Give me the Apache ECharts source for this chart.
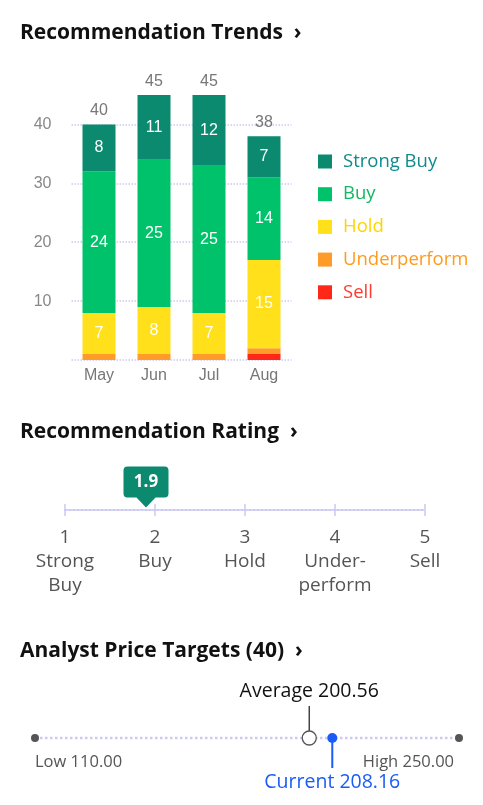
<!DOCTYPE html>
<html><head><meta charset="utf-8">
<script src="https://cdn.jsdelivr.net/npm/echarts@6/dist/echarts.min.js"></script>
<style>html,body{margin:0;padding:0;background:#fff}#c{width:483px;height:805px}</style>
</head><body><div id="c"></div>
<script>
// ---- data ----
const months = ['May', 'Jun', 'Jul', 'Aug'];
const strongBuy = [8, 11, 12, 7];
const buy = [24, 25, 25, 14];
const hold = [7, 8, 7, 15];
const underperform = [1, 1, 1, 1];
const sell = [0, 0, 0, 1];
const yTicks = [10, 20, 30, 40];

const ratingValue = 1.9;
const ratingNumbers = [1, 2, 3, 4, 5];
const ratingNames = ['Strong\nBuy', 'Buy', 'Hold', 'Under-\nperform', 'Sell'];

const analystCount = 40;
const priceLow = 110.00;
const priceHigh = 250.00;
const priceAverage = 200.56;
const priceCurrent = 208.16;

// ---- styling ----
const colors = {
  'Strong Buy': '#0b8a6f',
  'Buy': '#00c26a',
  'Hold': '#ffe01a',
  'Underperform': '#ff9b28',
  'Sell': '#ff2818'
};
const legendText = {
  'Strong Buy': '#0e8c8c',
  'Buy': '#12b863',
  'Hold': '#ffd400',
  'Underperform': '#ff9b1c',
  'Sell': '#ff3a2f'
};
const lav = '#cacaf2';
const clear = 'rgba(0,0,0,0)';
const totals = months.map((m, i) => strongBuy[i] + buy[i] + hold[i] + underperform[i] + sell[i]);
const seriesDefs = [
  ['Sell', sell], ['Underperform', underperform], ['Hold', hold], ['Buy', buy], ['Strong Buy', strongBuy]
];
const numFont = 'Liberation Sans, Arial, sans-serif';
const txtFont = 'Open Sans, Noto Sans, sans-serif';

const barSeries = seriesDefs.map(([name, arr]) => ({
  name, type: 'bar', stack: 'rec', xAxisIndex: 0, yAxisIndex: 0,
  barWidth: 33, data: arr,
  itemStyle: { color: colors[name] },
  label: {
    show: true, position: 'inside', color: '#fff', fontSize: 16, fontFamily: numFont,
    formatter: p => (p.value >= 3 ? String(p.value) : '')
  }
}));

const titleStyle = { fontFamily: txtFont, fontWeight: 'bold', fontSize: 21, color: '#111' };

const option = {
  animation: false,
  title: [
    { text: 'Recommendation Trends  \u203A', left: 20, top: 23, padding: 0, textStyle: titleStyle },
    { text: 'Recommendation Rating  \u203A', left: 20, top: 422, padding: 0, textStyle: titleStyle },
    { text: 'Analyst Price Targets (' + analystCount + ')  \u203A', left: 20, top: 641, padding: 0, textStyle: titleStyle }
  ],
  legend: {
    orient: 'vertical', left: 318, top: 152, itemWidth: 14, itemHeight: 14, itemGap: 13.7,
    icon: 'rect', padding: 0,
    textStyle: { fontFamily: txtFont, fontSize: 18.5, padding: [0, 0, 0, 6] },
    data: ['Strong Buy', 'Buy', 'Hold', 'Underperform', 'Sell'].map(n => ({ name: n, textStyle: { color: legendText[n] } }))
  },
  grid: [
    { left: 71.5, width: 220, top: 95, height: 265 },
    { left: 65, width: 360, top: 504, height: 12 },
    { left: 35, width: 424, top: 698, height: 80 }
  ],
  xAxis: [
    {
      gridIndex: 0, type: 'category', data: months,
      axisLine: { show: false }, axisTick: { show: false },
      axisLabel: { color: '#777', fontSize: 16, fontFamily: numFont, margin: 8 }
    },
    {
      gridIndex: 1, type: 'value', min: 1, max: 5, interval: 1,
      axisLine: { show: true, onZero: true, lineStyle: { color: lav, type: 'dotted', width: 2 } },
      axisTick: { show: false },
      splitLine: { show: true, lineStyle: { color: lav, width: 1.5 } },
      axisLabel: {
        margin: 10, color: '#555', fontSize: 19, fontFamily: txtFont, lineHeight: 24, align: 'center',
        showMinLabel: true, showMaxLabel: true,
        formatter: v => ratingNumbers.includes(v) ? v + '\n' + ratingNames[v - 1] : ''
      }
    },
    { gridIndex: 2, type: 'value', min: priceLow, max: priceHigh, show: false }
  ],
  yAxis: [
    {
      gridIndex: 0, type: 'value', min: 0, max: 45, interval: 10,
      axisLine: { show: false }, axisTick: { show: false },
      axisLabel: {
        color: '#888', fontSize: 16, fontFamily: numFont, margin: 20,
        formatter: v => yTicks.includes(v) ? String(v) : ''
      },
      splitLine: { show: true, lineStyle: { color: [lav, lav, lav, lav, lav, clear], type: 'dotted', width: 1.5 } }
    },
    { gridIndex: 1, type: 'value', min: -1, max: 1, show: false },
    { gridIndex: 2, type: 'value', min: -1, max: 1, show: false }
  ],
  series: [
    ...barSeries,
    {
      name: 'total', type: 'line', xAxisIndex: 0, yAxisIndex: 0, data: totals,
      symbol: 'circle', symbolSize: 1, itemStyle: { color: clear }, lineStyle: { color: clear },
      label: { show: true, position: 'top', distance: 5, color: '#777', fontSize: 16, fontFamily: numFont },
      silent: true, z: 10
    },
    // rating badge
    {
      type: 'scatter', xAxisIndex: 1, yAxisIndex: 1, data: [[ratingValue, 0]],
      symbol: 'path://M4,0 H41 Q45,0 45,4 V27 Q45,31 41,31 H32 L22.5,41 L13,31 H4 Q0,31 0,27 V4 Q0,0 4,0 Z',
      symbolSize: [45, 41], symbolOffset: [0, -23],
      itemStyle: { color: '#0b8a6f', opacity: 1 },
      label: {
        show: true, position: 'inside', offset: [0, -5], color: '#fff', fontSize: 17, fontWeight: 'bold',
        fontFamily: txtFont, formatter: () => ratingValue.toFixed(1)
      },
      z: 5
    },
    // price range line
    {
      type: 'line', xAxisIndex: 2, yAxisIndex: 2,
      data: [
        { value: [priceLow, 0], label: { align: 'left', formatter: 'Low ' + priceLow.toFixed(2) } },
        { value: [priceHigh, 0], label: { align: 'right', padding: [0, 5, 0, 0], formatter: 'High ' + priceHigh.toFixed(2) } }
      ],
      symbol: 'circle', symbolSize: 8, itemStyle: { color: '#555' },
      lineStyle: { color: lav, type: 'dotted', width: 2.5 },
      label: { show: true, position: 'bottom', distance: 12, color: '#555', fontSize: 16.5, fontFamily: txtFont }
    },
    // average stem
    {
      type: 'line', xAxisIndex: 2, yAxisIndex: 2, data: [[priceAverage, 0], [priceAverage, 0.8]],
      symbol: 'none', lineStyle: { color: '#444', width: 1.5 }, z: 3
    },
    {
      type: 'scatter', xAxisIndex: 2, yAxisIndex: 2, data: [[priceAverage, 0]],
      symbol: 'circle', symbolSize: 14,
      itemStyle: { color: '#fff', borderColor: '#555', borderWidth: 1.3, opacity: 1 }, z: 4
    },
    {
      type: 'scatter', xAxisIndex: 2, yAxisIndex: 2, data: [[priceAverage, 0.8]],
      symbolSize: 1, itemStyle: { color: clear, opacity: 1 },
      label: { show: true, position: 'top', distance: 4, color: '#111', fontSize: 19.5, fontFamily: txtFont,
        formatter: 'Average ' + priceAverage.toFixed(2) }
    },
    // current stem
    {
      type: 'line', xAxisIndex: 2, yAxisIndex: 2, data: [[priceCurrent, 0], [priceCurrent, -0.75]],
      symbol: 'none', lineStyle: { color: '#1a5cf5', width: 2 }, z: 3
    },
    {
      type: 'scatter', xAxisIndex: 2, yAxisIndex: 2, data: [[priceCurrent, 0]],
      symbol: 'circle', symbolSize: 10, itemStyle: { color: '#1a5cf5', opacity: 1 }, z: 4
    },
    {
      type: 'scatter', xAxisIndex: 2, yAxisIndex: 2, data: [[priceCurrent, -0.75]],
      symbolSize: 1, itemStyle: { color: clear, opacity: 1 },
      label: { show: true, position: 'bottom', distance: 4, color: '#1a5cf5', fontSize: 19.5, fontFamily: txtFont,
        formatter: 'Current ' + priceCurrent.toFixed(2) }
    }
  ]
};
const chart = echarts.init(document.getElementById('c'), null, { renderer: 'canvas' });
chart.setOption(option);
</script>
</body></html>
